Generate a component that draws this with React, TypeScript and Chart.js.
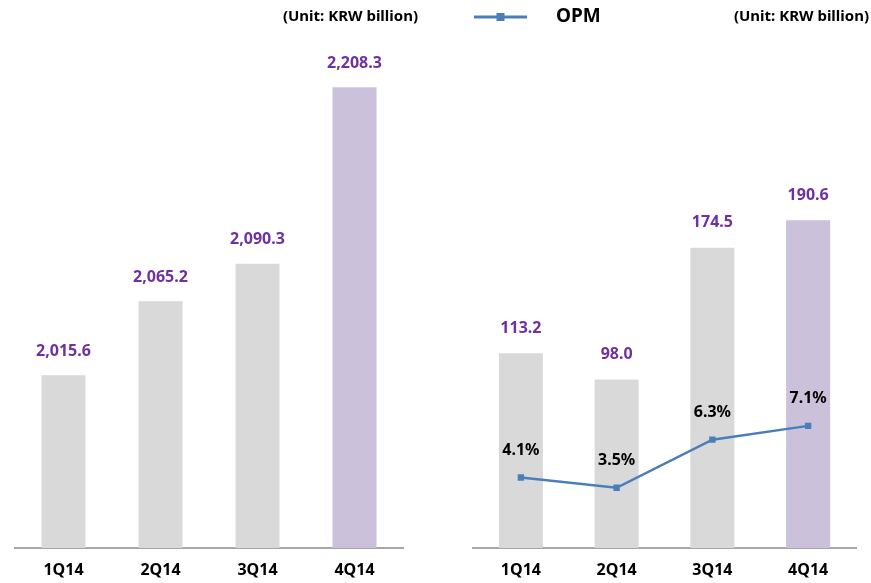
import React, { useEffect, useRef } from "react";
import { Chart, registerables } from "chart.js";

Chart.register(...registerables);

const quarters = ["1Q14", "2Q14", "3Q14", "4Q14"];
const revenue = [2015.6, 2065.2, 2090.3, 2208.3];
const revenueLabels = ["2,015.6", "2,065.2", "2,090.3", "2,208.3"];
const operatingProfit = [113.2, 98.0, 174.5, 190.6];
const operatingProfitLabels = ["113.2", "98.0", "174.5", "190.6"];
const opm = [4.1, 3.5, 6.3, 7.1];
const opmLabels = ["4.1%", "3.5%", "6.3%", "7.1%"];
const barColors = ["#d9d9d9", "#d9d9d9", "#d9d9d9", "#ccc1da"];

const unitText = "(Unit: KRW billion)";
const legendText = "OPM";

const FONT = "'Noto Sans', sans-serif";
const PURPLE = "#7030a0";
const LINE_BLUE = "#4a7ebb";

const valueLabelPlugin = {
  id: "valueLabels",
  afterDatasetsDraw(chart: any) {
    const ctx = chart.ctx;
    chart.data.datasets.forEach((ds: any, i: number) => {
      const meta = chart.getDatasetMeta(i);
      const labels: string[] = ds.valueLabels;
      if (!labels) return;
      ctx.save();
      ctx.font = `bold 16px ${FONT}`;
      ctx.fillStyle = ds.valueLabelColor;
      ctx.textAlign = "center";
      ctx.textBaseline = "middle";
      meta.data.forEach((el: any, j: number) => {
        ctx.fillText(labels[j], el.x, el.y - ds.valueLabelOffset);
      });
      ctx.restore();
    });
  },
};

const headerPlugin = {
  id: "header",
  afterDraw(chart: any) {
    const opts = chart.options.plugins.header;
    if (!opts) return;
    const ctx = chart.ctx;
    ctx.save();
    ctx.fillStyle = "#000";
    ctx.textBaseline = "middle";
    ctx.font = `bold 15px ${FONT}`;
    ctx.textAlign = "right";
    ctx.fillText(unitText, opts.unitRight, 17);
    if (opts.legend) {
      ctx.strokeStyle = LINE_BLUE;
      ctx.lineWidth = 3;
      ctx.beginPath();
      ctx.moveTo(opts.legendX, 17);
      ctx.lineTo(opts.legendX + 53, 17);
      ctx.stroke();
      ctx.fillStyle = LINE_BLUE;
      ctx.fillRect(opts.legendX + 26.5 - 4, 13, 8, 8);
      ctx.fillStyle = "#000";
      ctx.font = `bold 19px ${FONT}`;
      ctx.textAlign = "left";
      ctx.fillText(legendText, opts.legendX + 82, 17);
    }
    ctx.restore();
  },
};

function xAxis() {
  return {
    offset: true,
    grid: { display: false, drawTicks: false },
    border: { display: true, color: "#a6a6a6", width: 2 },
    ticks: {
      color: "#000",
      padding: 13,
      font: { family: FONT, size: 16, weight: "bold" as const },
    },
    afterFit: (scale: any) => {
      scale.height = 35;
    },
  };
}

function LeftChart() {
  const ref = useRef<HTMLCanvasElement>(null);
  useEffect(() => {
    const chart = new Chart(ref.current!, {
      type: "bar",
      data: {
        labels: quarters,
        datasets: [
          {
            data: revenue,
            backgroundColor: barColors,
            categoryPercentage: 1,
            barPercentage: 0.454,
            valueLabels: revenueLabels,
            valueLabelColor: PURPLE,
            valueLabelOffset: 24,
          } as any,
        ],
      },
      options: {
        responsive: false,
        animation: false,
        devicePixelRatio: 1,
        layout: { padding: { left: 15, right: 32, top: 25, bottom: 0 } },
        plugins: {
          legend: { display: false },
          tooltip: { enabled: false },
          header: { unitRight: 418, legend: false },
        } as any,
        scales: {
          x: xAxis() as any,
          y: { display: false, min: 1900, max: 2250 },
        },
      },
      plugins: [valueLabelPlugin, headerPlugin],
    });
    return () => chart.destroy();
  }, []);
  return (
    <canvas
      ref={ref}
      width={435}
      height={583}
      style={{ position: "absolute", left: 0, top: 0 }}
    />
  );
}

function RightChart() {
  const ref = useRef<HTMLCanvasElement>(null);
  useEffect(() => {
    const chart = new Chart(ref.current!, {
      type: "bar",
      data: {
        labels: quarters,
        datasets: [
          {
            type: "line",
            data: opm,
            yAxisID: "y1",
            borderColor: LINE_BLUE,
            backgroundColor: LINE_BLUE,
            borderWidth: 2.5,
            pointStyle: "rect",
            pointRadius: 4.5,
            pointBorderWidth: 0,
            tension: 0,
            valueLabels: opmLabels,
            valueLabelColor: "#000",
            valueLabelOffset: 27,
          } as any,
          {
            type: "bar",
            data: operatingProfit,
            yAxisID: "y",
            backgroundColor: barColors,
            categoryPercentage: 1,
            barPercentage: 0.46,
            valueLabels: operatingProfitLabels,
            valueLabelColor: PURPLE,
            valueLabelOffset: 25,
          } as any,
        ],
      },
      options: {
        responsive: false,
        animation: false,
        devicePixelRatio: 1,
        layout: { padding: { left: 38, right: 15, top: 32, bottom: 0 } },
        plugins: {
          legend: { display: false },
          tooltip: { enabled: false },
          header: { unitRight: 434, legend: true, legendX: 39 },
        } as any,
        scales: {
          x: xAxis() as any,
          y: { display: false, min: 0, max: 300 },
          y1: { display: false, min: 0, max: 30 },
        },
      },
      plugins: [valueLabelPlugin, headerPlugin],
    });
    return () => chart.destroy();
  }, []);
  return (
    <canvas
      ref={ref}
      width={436}
      height={583}
      style={{ position: "absolute", left: 435, top: 0 }}
    />
  );
}

export default function App() {
  return (
    <div
      style={{
        position: "fixed",
        left: 0,
        top: 0,
        width: 871,
        height: 583,
        background: "#fff",
      }}
    >
      <LeftChart />
      <RightChart />
    </div>
  );
}
